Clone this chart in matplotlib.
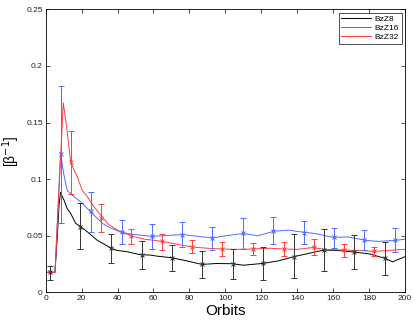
import matplotlib
matplotlib.use("Agg")
import matplotlib.pyplot as plt

# ---- data ----
bz8_x = [0, 2, 4, 5.2, 6.5, 7.5, 8.3, 10.2, 12, 13.9, 16.7, 19.5, 23.2, 28.7, 32.5, 36.3, 40, 45, 53, 58, 62, 70, 78, 87, 95, 104, 110, 121, 130, 138, 148, 155, 163, 172, 180, 189, 193, 200]
bz8_y = [0.0177, 0.0177, 0.0177, 0.0177, 0.05, 0.078, 0.0883, 0.0815, 0.074, 0.0698, 0.061, 0.058, 0.0535, 0.046, 0.0427, 0.0389, 0.037, 0.036, 0.0332, 0.033, 0.032, 0.0306, 0.028, 0.0247, 0.0255, 0.0253, 0.024, 0.0256, 0.028, 0.0315, 0.035, 0.0374, 0.037, 0.0356, 0.034, 0.030, 0.027, 0.0315]

bz16_x = [0, 2, 4, 5.2, 8.3, 10, 12, 15.8, 19.5, 25, 31.5, 36, 42, 50, 59, 65, 76, 85, 93, 100, 110, 118, 127, 135, 144, 150, 160, 168, 178, 185, 195, 200]
bz16_y = [0.0177, 0.0177, 0.0177, 0.0177, 0.124, 0.105, 0.090, 0.0845, 0.080, 0.0712, 0.061, 0.057, 0.053, 0.051, 0.0495, 0.050, 0.051, 0.0495, 0.048, 0.050, 0.052, 0.050, 0.054, 0.055, 0.053, 0.052, 0.0486, 0.049, 0.046, 0.045, 0.046, 0.047]

bz32_x = [0, 2, 4, 5.2, 9.8, 11.7, 13.9, 15.8, 17.6, 20.4, 23.2, 26.9, 30.6, 35, 40, 48, 55, 65, 75, 82, 90, 98, 105, 115, 125, 132, 140, 149, 155, 166, 175, 183, 190, 200]
bz32_y = [0.0177, 0.0177, 0.0177, 0.0177, 0.1675, 0.146, 0.1154, 0.108, 0.102, 0.090, 0.0845, 0.0756, 0.0683, 0.060, 0.055, 0.0497, 0.047, 0.045, 0.042, 0.040, 0.039, 0.0383, 0.038, 0.0383, 0.039, 0.0383, 0.038, 0.0397, 0.038, 0.0374, 0.037, 0.0362, 0.037, 0.038]

eb8_x = [2.6, 19.3, 36.3, 53.4, 70.1, 87.2, 104.4, 121.1, 138.2, 154.9, 171.8, 188.9]
eb8_y = [0.0177, 0.058, 0.0389, 0.0332, 0.0306, 0.0247, 0.0253, 0.0256, 0.0315, 0.0374, 0.0356, 0.030]
eb8_hi = [0.023, 0.0786, 0.052, 0.045, 0.042, 0.0365, 0.038, 0.0397, 0.0515, 0.056, 0.0506, 0.0442]
eb8_lo = [0.011, 0.038, 0.0256, 0.021, 0.019, 0.0126, 0.0117, 0.0106, 0.0124, 0.0188, 0.0206, 0.0153]

eb16_x = [8.3, 25.0, 42.3, 59.2, 75.9, 92.6, 110.0, 126.7, 143.8, 160.3, 177.4, 194.6]
eb16_y = [0.122, 0.0718, 0.053, 0.0495, 0.0509, 0.0483, 0.0521, 0.0541, 0.0527, 0.0486, 0.046, 0.0462]
eb16_hi = [0.1825, 0.0889, 0.0636, 0.060, 0.0624, 0.058, 0.0654, 0.0668, 0.063, 0.057, 0.0548, 0.0565]
eb16_lo = [0.061, 0.053, 0.0427, 0.0385, 0.0397, 0.0374, 0.038, 0.0427, 0.0427, 0.039, 0.0374, 0.0356]

eb32_x = [13.9, 30.8, 47.5, 64.7, 81.6, 98.3, 115.4, 132.5, 149.4, 166.0, 182.9]
eb32_y = [0.1154, 0.0654, 0.0495, 0.045, 0.0403, 0.0383, 0.0383, 0.0383, 0.0397, 0.0374, 0.0362]
eb32_hi = [0.1428, 0.0777, 0.056, 0.052, 0.046, 0.0442, 0.0433, 0.0444, 0.0468, 0.0424, 0.0403]
eb32_lo = [0.087, 0.0533, 0.0427, 0.0374, 0.0344, 0.032, 0.033, 0.032, 0.0332, 0.0315, 0.0323]

labels = ["BzZ8", "BzZ16", "BzZ32"]
xticks = [0, 20, 40, 60, 80, 100, 120, 140, 160, 180, 200]
yticks = [0, 0.05, 0.1, 0.15, 0.2, 0.25]
yticklabels = ["0", "0.05", "0.1", "0.15", "0.2", "0.25"]

# ---- drawing ----
plt.rcParams['font.family'] = ['Liberation Sans', 'DejaVu Sans']
fig = plt.figure(figsize=(4.15, 3.22), dpi=100)
ax = fig.add_axes([0.110, 0.092, 0.866, 0.879])

c8, c16, c32 = "#000000", "#4d6cff", "#ff3c3c"
lw = 0.7

ax.plot(bz8_x, bz8_y, color=c8, lw=lw, label=labels[0])
ax.plot(bz16_x, bz16_y, color=c16, lw=lw, label=labels[1])
ax.plot(bz32_x, bz32_y, color=c32, lw=lw, label=labels[2])

for ex, ey, hi, lo, c in [(eb8_x, eb8_y, eb8_hi, eb8_lo, "#333333"),
                          (eb16_x, eb16_y, eb16_hi, eb16_lo, c16),
                          (eb32_x, eb32_y, eb32_hi, eb32_lo, c32)]:
    yerr = [[y - l for y, l in zip(ey, lo)], [h - y for y, h in zip(ey, hi)]]
    ax.errorbar(ex, ey, yerr=yerr, fmt='x', color=c, ms=2.5, mew=0.7,
                elinewidth=0.7, capsize=2.5, capthick=0.7)

ax.set_xlim(0, 200)
ax.set_ylim(0, 0.25)
ax.set_xticks(xticks)
ax.set_yticks(yticks)
ax.set_yticklabels(yticklabels)
ax.tick_params(direction='in', top=True, right=True, labelsize=6, length=3,
               width=0.5, labelcolor="#222222", pad=2)
for s in ax.spines.values():
    s.set_linewidth(0.6)

ax.set_xlabel("Orbits", fontsize=11, labelpad=1)
ax.set_ylabel("[\u03b2$^{-1}$]", fontsize=10, labelpad=3)

leg = ax.legend(loc="upper right", fontsize=6, frameon=True, fancybox=False,
                edgecolor="black", handlelength=3.6, borderpad=0.3,
                labelspacing=0.15, handletextpad=0.4, borderaxespad=0.4)
leg.get_frame().set_linewidth(0.6)

fig.savefig("out.png", dpi=100)
